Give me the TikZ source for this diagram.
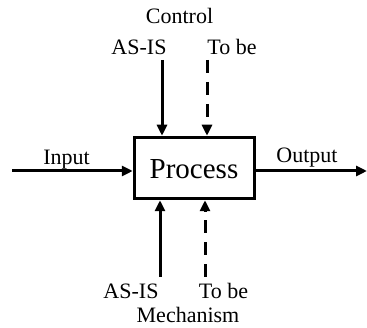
\documentclass[tikz,border=0pt]{standalone}
\usepackage{fontspec}
\setmainfont{Liberation Serif}
\usetikzlibrary{arrows.meta, positioning}

\begin{document}
\begin{tikzpicture}[
    x=1pt, y=-1pt,
    every node/.style={font=\fontsize{22}{24}\selectfont, inner sep=0pt},
    box/.style={
        rectangle,
        draw,
        line width=3.5pt,
        minimum width=120pt,
        minimum height=61pt
    },
    bigtext/.style={font=\fontsize{29}{32}\selectfont},
    arrow/.style={line width=3pt,-{Triangle[length=11pt,width=10pt]}},
    tobe/.style={arrow, dash pattern=on 13pt off 9pt}
]
\useasboundingbox (0,0) rectangle (367,328);

\node (process) [box] at (194.5,168) {};
\node (proctext) [bigtext, anchor=base] at (194,179) {Process};

% labels
\node (control) [anchor=base] at (179.5,24) {Control};
\node (ctrlasis) [anchor=base] at (139,55) {AS-IS};
\node (ctrltobe) [anchor=base] at (232,55) {To be};
\node (input) [anchor=base] at (66.5,165) {Input};
\node (output) [anchor=base] at (307,163) {Output};
\node (mechasis) [anchor=base] at (131,299) {AS-IS};
\node (mechtobe) [anchor=base] at (223.5,299) {To be};
\node (mechanism) [anchor=base] at (188,323) {Mechanism};

% free ends
\coordinate (in) at (12,171);
\coordinate (out) at (367,171);
\coordinate (ctrla) at (162,60);
\coordinate (ctrlb) at (207,60);
\coordinate (mecha) at (160,277);
\coordinate (mechb) at (205,277);

\draw [arrow] (in) -- (in -| process.west);
\draw [arrow] (out -| process.east) -- (out);
\draw [arrow] (ctrla) -- (ctrla |- process.north);
\draw [tobe] (ctrlb) -- (ctrlb |- process.north);
\draw [arrow] (mecha) -- (mecha |- process.south);
\draw [tobe] (mechb) -- (mechb |- process.south);

\end{tikzpicture}
\end{document}
